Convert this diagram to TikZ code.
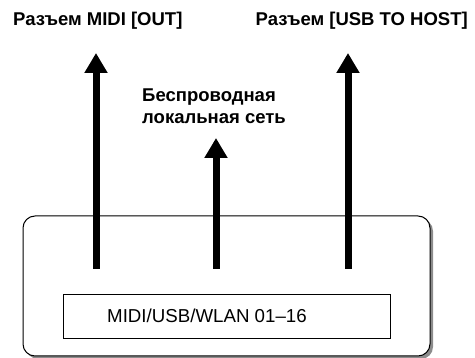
\documentclass[tikz,border=0pt]{standalone}
\usepackage{fontspec}
\setmainfont{Liberation Sans}
\usetikzlibrary{arrows.meta}
\begin{document}
\begin{tikzpicture}[x=1pt,y=-1pt,
  lbl/.style={font=\fontsize{18.5}{21.6}\selectfont\bfseries, inner sep=0pt, align=left},
  bigarrow/.style={line width=7pt, -{Triangle[width=22pt,length=20pt]}},
  panel/.style={draw=black, line width=1pt, rounded corners=12pt, fill=white},
  shadowbox/.style={fill=black!45, rounded corners=12pt},
  innerbox/.style={draw=black, line width=1pt}]
\useasboundingbox (0,0) rectangle (475,358);
% outer panel with shadow
\fill[shadowbox] (26,219) rectangle (433,359);
\draw[panel] (23,216) rectangle (430,356);
% inner box
\node[innerbox, minimum width=327pt, minimum height=44pt, inner sep=0pt, anchor=north west] (ib) at (63,294) {};
\node[font=\fontsize{18.7}{21.6}\selectfont, inner sep=0pt, anchor=west] (it) at (107,316) {MIDI/USB/WLAN 01–16};
% labels
\node[lbl, anchor=west] (l1) at (13,20.5) {Разъем MIDI [OUT]};
\node[lbl, anchor=east] (l2) at (468,20.5) {Разъем [USB TO HOST]};
\node[lbl, anchor=west] (l3) at (142,106.5) {Беспроводная\\локальная сеть};
% arrows
\coordinate (s1) at (96,269); \coordinate (t1) at (96,53);
\coordinate (s2) at (216,269); \coordinate (t2) at (216,138);
\coordinate (s3) at (348,269); \coordinate (t3) at (348,53);
\draw[bigarrow] (s1) -- (t1);
\draw[bigarrow] (s2) -- (t2);
\draw[bigarrow] (s3) -- (t3);
\end{tikzpicture}
\end{document}
